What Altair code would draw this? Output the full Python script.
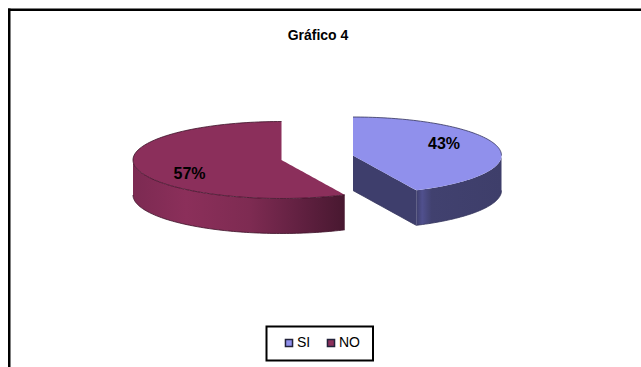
import numpy as np
import pandas as pd
import altair as alt

# Chart content
TITLE = "Gráfico 4"
CATEGORIES = ["SI", "NO"]
PERCENTS = [43, 57]
LABELS = ["43%", "57%"]

# Colours of the top faces, the shaded sides and the outlines
TOP_COLORS = ["#9090ec", "#8b2f5b"]
EDGE_COLORS = ["#34345c", "#3d1228"]
CUT_FACE_COLOR = "#3e3e6c"

W, H = 641, 367

# Pie geometry: each slice is exploded, so it has a centre of its own
SI_C = (353.0, 155.5)
NO_C = (281.5, 160.0)
RX, RY = 148.5, 38.5
DEPTH = 35.0

x_enc = lambda f: alt.X(f, type="quantitative", axis=None,
                        scale=alt.Scale(domain=[0, W], nice=False, zero=False))
y_enc = lambda f: alt.Y(f, type="quantitative", axis=None,
                        scale=alt.Scale(domain=[H, 0], nice=False, zero=False))


def rim(c, deg):
    # Point on the tilted ellipse, measured clockwise from twelve o'clock
    t = np.radians(deg)
    return c[0] + RX * np.sin(t), c[1] - RY * np.cos(t)


split = PERCENTS[0] / 100 * 360  # angle where SI ends and NO begins


def area(pts, mark):
    df = pd.DataFrame(pts, columns=["px", "top", "bottom"])
    return alt.Chart(df).mark_area(orient="vertical", opacity=1, **mark).encode(
        x=x_enc("px"), y=y_enc("top"), y2=alt.Y2("bottom")
    )


def outline(pts, color, width=1.0, opacity=0.8):
    df = pd.DataFrame(pts, columns=["px", "py"]).assign(i=lambda d: d.index)
    return alt.Chart(df).mark_line(color=color, strokeWidth=width, opacity=opacity).encode(
        x=x_enc("px"), y=y_enc("py"), order="i:Q"
    )


def gradient(stops):
    return alt.Gradient(
        gradient="linear", x1=0, x2=1, y1=0, y2=0,
        stops=[alt.GradientStop(offset=o, color=c) for o, c in stops],
    )


# SI slice: top face, scanned left to right
si_rows = []
xc, yc = rim(SI_C, split)
for deg in np.linspace(0, 90, 61):
    x, up = rim(SI_C, deg)
    if x <= xc:
        low = SI_C[1] + (yc - SI_C[1]) * (x - SI_C[0]) / (xc - SI_C[0])
    else:
        low = SI_C[1] + RY * np.sqrt(max(0, 1 - ((x - SI_C[0]) / RX) ** 2))
    si_rows.append((x, up, low))
si_top = pd.DataFrame(si_rows, columns=["px", "top", "bottom"]).assign(serie=CATEGORIES[0])

# NO slice: top face, scanned left to right
xn, yn = rim(NO_C, split)
no_rows = []
for deg in np.linspace(270, 360, 61):
    x, up = rim(NO_C, deg)
    low = NO_C[1] + RY * np.sqrt(max(0, 1 - ((x - NO_C[0]) / RX) ** 2))
    no_rows.append((x, up, low))
for x in np.linspace(NO_C[0] + 0.01, xn, 31):
    up = NO_C[1] + (yn - NO_C[1]) * (x - NO_C[0]) / (xn - NO_C[0])
    low = NO_C[1] + RY * np.sqrt(max(0, 1 - ((x - NO_C[0]) / RX) ** 2))
    no_rows.append((x, up, low))
no_top = pd.DataFrame(no_rows, columns=["px", "top", "bottom"]).assign(serie=CATEGORIES[1])

top_color = alt.Color(
    "serie:N",
    scale=alt.Scale(domain=CATEGORIES, range=TOP_COLORS),
    legend=alt.Legend(
        orient="none", legendX=272, legendY=326, direction="horizontal", title=None,
        padding=10, symbolType="square", symbolSize=50, symbolStrokeColor="#22223a",
        symbolStrokeWidth=1.5, labelFont="Liberation Sans", labelFontSize=14,
        labelColor="black", columnPadding=13, labelOffset=1,
    ),
)

top_layers = [
    alt.Chart(d).mark_area(orient="vertical", opacity=1).encode(
        x=x_enc("px"), y=y_enc("top"), y2=alt.Y2("bottom"), color=top_color
    )
    for d in (si_top, no_top)
]

# Side walls, drawn as bands hanging below the rim
si_cut = area(
    [(x, SI_C[1] + (yc - SI_C[1]) * (x - SI_C[0]) / (xc - SI_C[0]),
      SI_C[1] + (yc - SI_C[1]) * (x - SI_C[0]) / (xc - SI_C[0]) + DEPTH)
     for x in np.linspace(SI_C[0], xc, 12)],
    {"color": CUT_FACE_COLOR},
)
si_wall_pts = [rim(SI_C, d) for d in np.linspace(split, 90, 50)]
si_wall = area(
    [(x, y, y + DEPTH) for x, y in si_wall_pts],
    {"color": gradient([(0, "#3e3e6c"), (0.07, "#50508e"), (0.18, "#41416f"), (1, "#3e3e6a")])},
)
no_wall_pts = [rim(NO_C, d) for d in np.linspace(270, split, 90)]
no_wall = area(
    [(x, y, y + DEPTH) for x, y in no_wall_pts],
    {"color": gradient([(0, "#7c2a52"), (0.25, "#8b2f5a"), (0.55, "#7e2b52"),
                        (0.8, "#602040"), (1, "#481830")])},
)

# Dark outlines around the solid
no_edges = [
    outline(no_wall_pts, EDGE_COLORS[1]),
    outline([(x, y + DEPTH) for x, y in no_wall_pts], EDGE_COLORS[1]),
    outline([(r[0], r[1]) for r in no_rows[:61]], EDGE_COLORS[1]),
]
si_edges = [
    outline([(x, y + DEPTH) for x, y in si_wall_pts], EDGE_COLORS[0]),
    outline([(r[0], r[1]) for r in si_rows], EDGE_COLORS[0]),
    outline([(SI_C[0], SI_C[1] + DEPTH), (xc, yc + DEPTH)], EDGE_COLORS[0]),
]

# Percentage labels sit on the top faces
label_df = pd.DataFrame({"px": [444, 189.5], "py": [144, 174], "t": LABELS})
labels = alt.Chart(label_df).mark_text(
    font="Liberation Sans", fontSize=16, fontWeight="bold", color="black"
).encode(x=x_enc("px"), y=y_enc("py"), text="t:N")

title_df = pd.DataFrame({"px": [318], "py": [36], "t": [TITLE]})
title = alt.Chart(title_df).mark_text(
    font="Liberation Sans", fontSize=14, fontWeight="bold", color="black"
).encode(x=x_enc("px"), y=y_enc("py"), text="t:N")

# Frame: only the top and left sides are inside the window
anchor = pd.DataFrame({"a": [0]})
frame_left = alt.Chart(anchor).mark_rule(color="black", strokeWidth=2.5).encode(
    x=alt.value(9.25), y=alt.value(8.5), y2=alt.value(H)
)
frame_top = alt.Chart(anchor).mark_rule(color="black", strokeWidth=2.5).encode(
    y=alt.value(9.75), x=alt.value(8), x2=alt.value(W)
)

# Box behind the legend entries
legend_box = alt.Chart(anchor).mark_rect(fill="white", stroke="black", strokeWidth=2).encode(
    x=alt.value(266.5), x2=alt.value(373), y=alt.value(326.5), y2=alt.value(360.5)
)

chart = alt.layer(
    frame_left, frame_top, title, legend_box,
    no_wall, top_layers[1], *no_edges,
    si_cut, si_wall, top_layers[0], *si_edges,
    labels,
).properties(
    width=W, height=H, padding=0, autosize=alt.AutoSizeParams(type="none"), background="white"
).configure_view(stroke=None)

chart.save("out.html", embed_options={"renderer": "svg", "actions": False})
